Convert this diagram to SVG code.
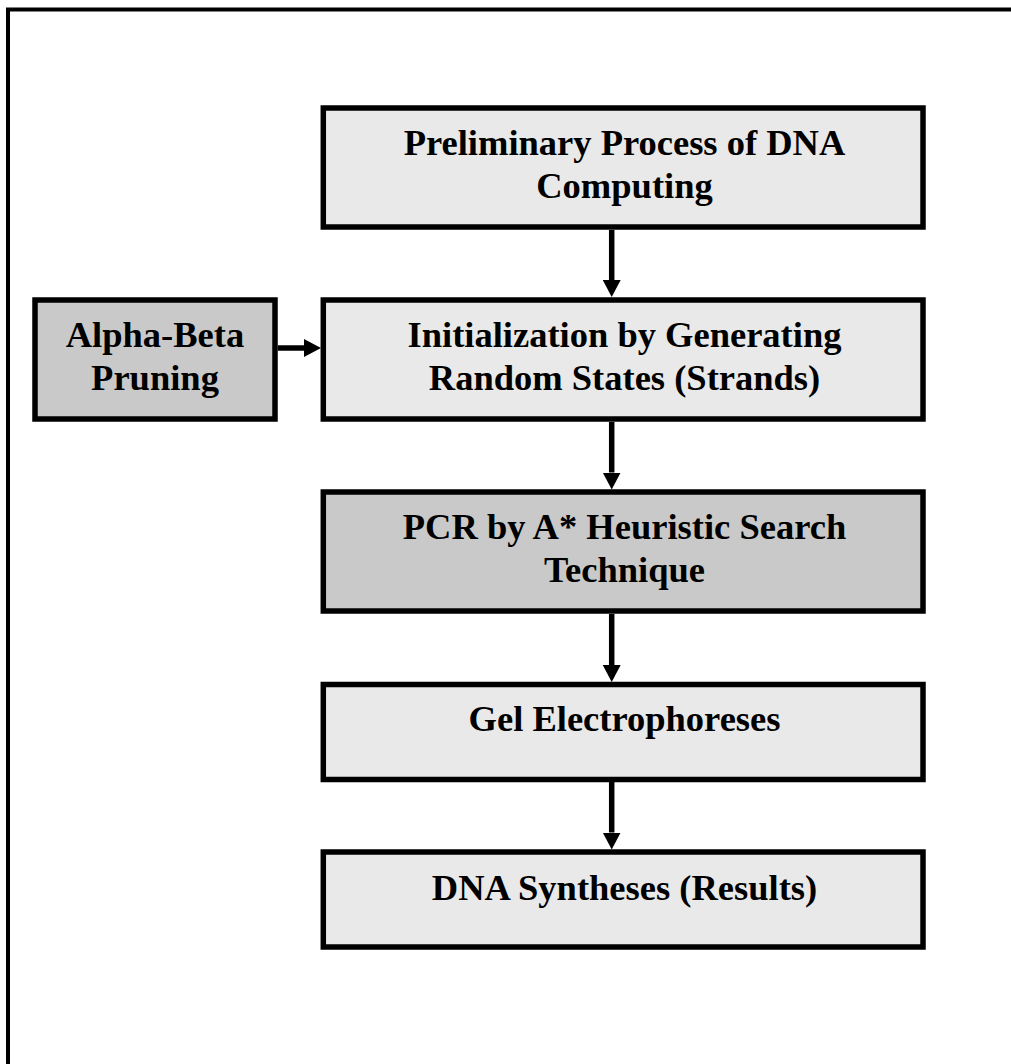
<svg xmlns="http://www.w3.org/2000/svg" width="1011" height="1064" viewBox="0 0 1011 1064">
<defs>
<style>
.bg{fill:#ffffff}
.frame{fill:none;stroke:#000;stroke-width:4}
.box{stroke:#000;stroke-width:5.5}
.light{fill:#e9e9e9}
.dark{fill:#c9c9c9}
.t{font-family:"Liberation Serif","Times New Roman",serif;font-weight:bold;font-size:36.5px;fill:#000;text-anchor:middle}
.conn{stroke:#000;stroke-width:5.5;fill:none}
</style>
<marker id="ah" markerUnits="userSpaceOnUse" markerWidth="17" markerHeight="18" refX="0" refY="9" orient="auto">
<path d="M0,0 L17,9 L0,18 z" fill="#000"/>
</marker>
</defs>
<rect class="bg" x="0" y="0" width="1011" height="1064"/>
<path class="frame" d="M8,1070 V9.5 H1020"/>

<g id="node-preliminary">
<rect class="box light" x="323.3" y="108" width="599.7" height="119"/>
<text class="t" x="624.5" y="154.5">Preliminary Process of DNA</text>
<text class="t" x="624.5" y="197.5">Computing</text>
</g>

<g id="node-alpha-beta">
<rect class="box dark" x="35" y="300" width="240" height="119"/>
<text class="t" x="155" y="346.5">Alpha-Beta</text>
<text class="t" x="155" y="389.5">Pruning</text>
</g>

<g id="node-initialization">
<rect class="box light" x="323.3" y="300" width="599.7" height="119"/>
<text class="t" x="624.5" y="346.5">Initialization by Generating</text>
<text class="t" x="624.5" y="389.5">Random States (Strands)</text>
</g>

<g id="node-pcr">
<rect class="box dark" x="323.3" y="492" width="599.7" height="119"/>
<text class="t" x="624.5" y="538.5">PCR by A* Heuristic Search</text>
<text class="t" x="624.5" y="581.5">Technique</text>
</g>

<g id="node-gel">
<rect class="box light" x="323.3" y="684.5" width="599.7" height="95"/>
<text class="t" x="624.5" y="731">Gel Electrophoreses</text>
</g>

<g id="node-dna-syntheses">
<rect class="box light" x="323.3" y="852" width="599.7" height="95"/>
<text class="t" x="624.5" y="899.5">DNA Syntheses (Results)</text>
</g>

<g id="connectors">
<line class="conn" x1="611.7" y1="230" x2="611.7" y2="280" marker-end="url(#ah)"/>
<line class="conn" x1="611.7" y1="422" x2="611.7" y2="472.5" marker-end="url(#ah)"/>
<line class="conn" x1="611.7" y1="614" x2="611.7" y2="665" marker-end="url(#ah)"/>
<line class="conn" x1="611.7" y1="782" x2="611.7" y2="832.5" marker-end="url(#ah)"/>
<line class="conn" x1="277.7" y1="348" x2="304" y2="348" marker-end="url(#ah)"/>
</g>
</svg>
